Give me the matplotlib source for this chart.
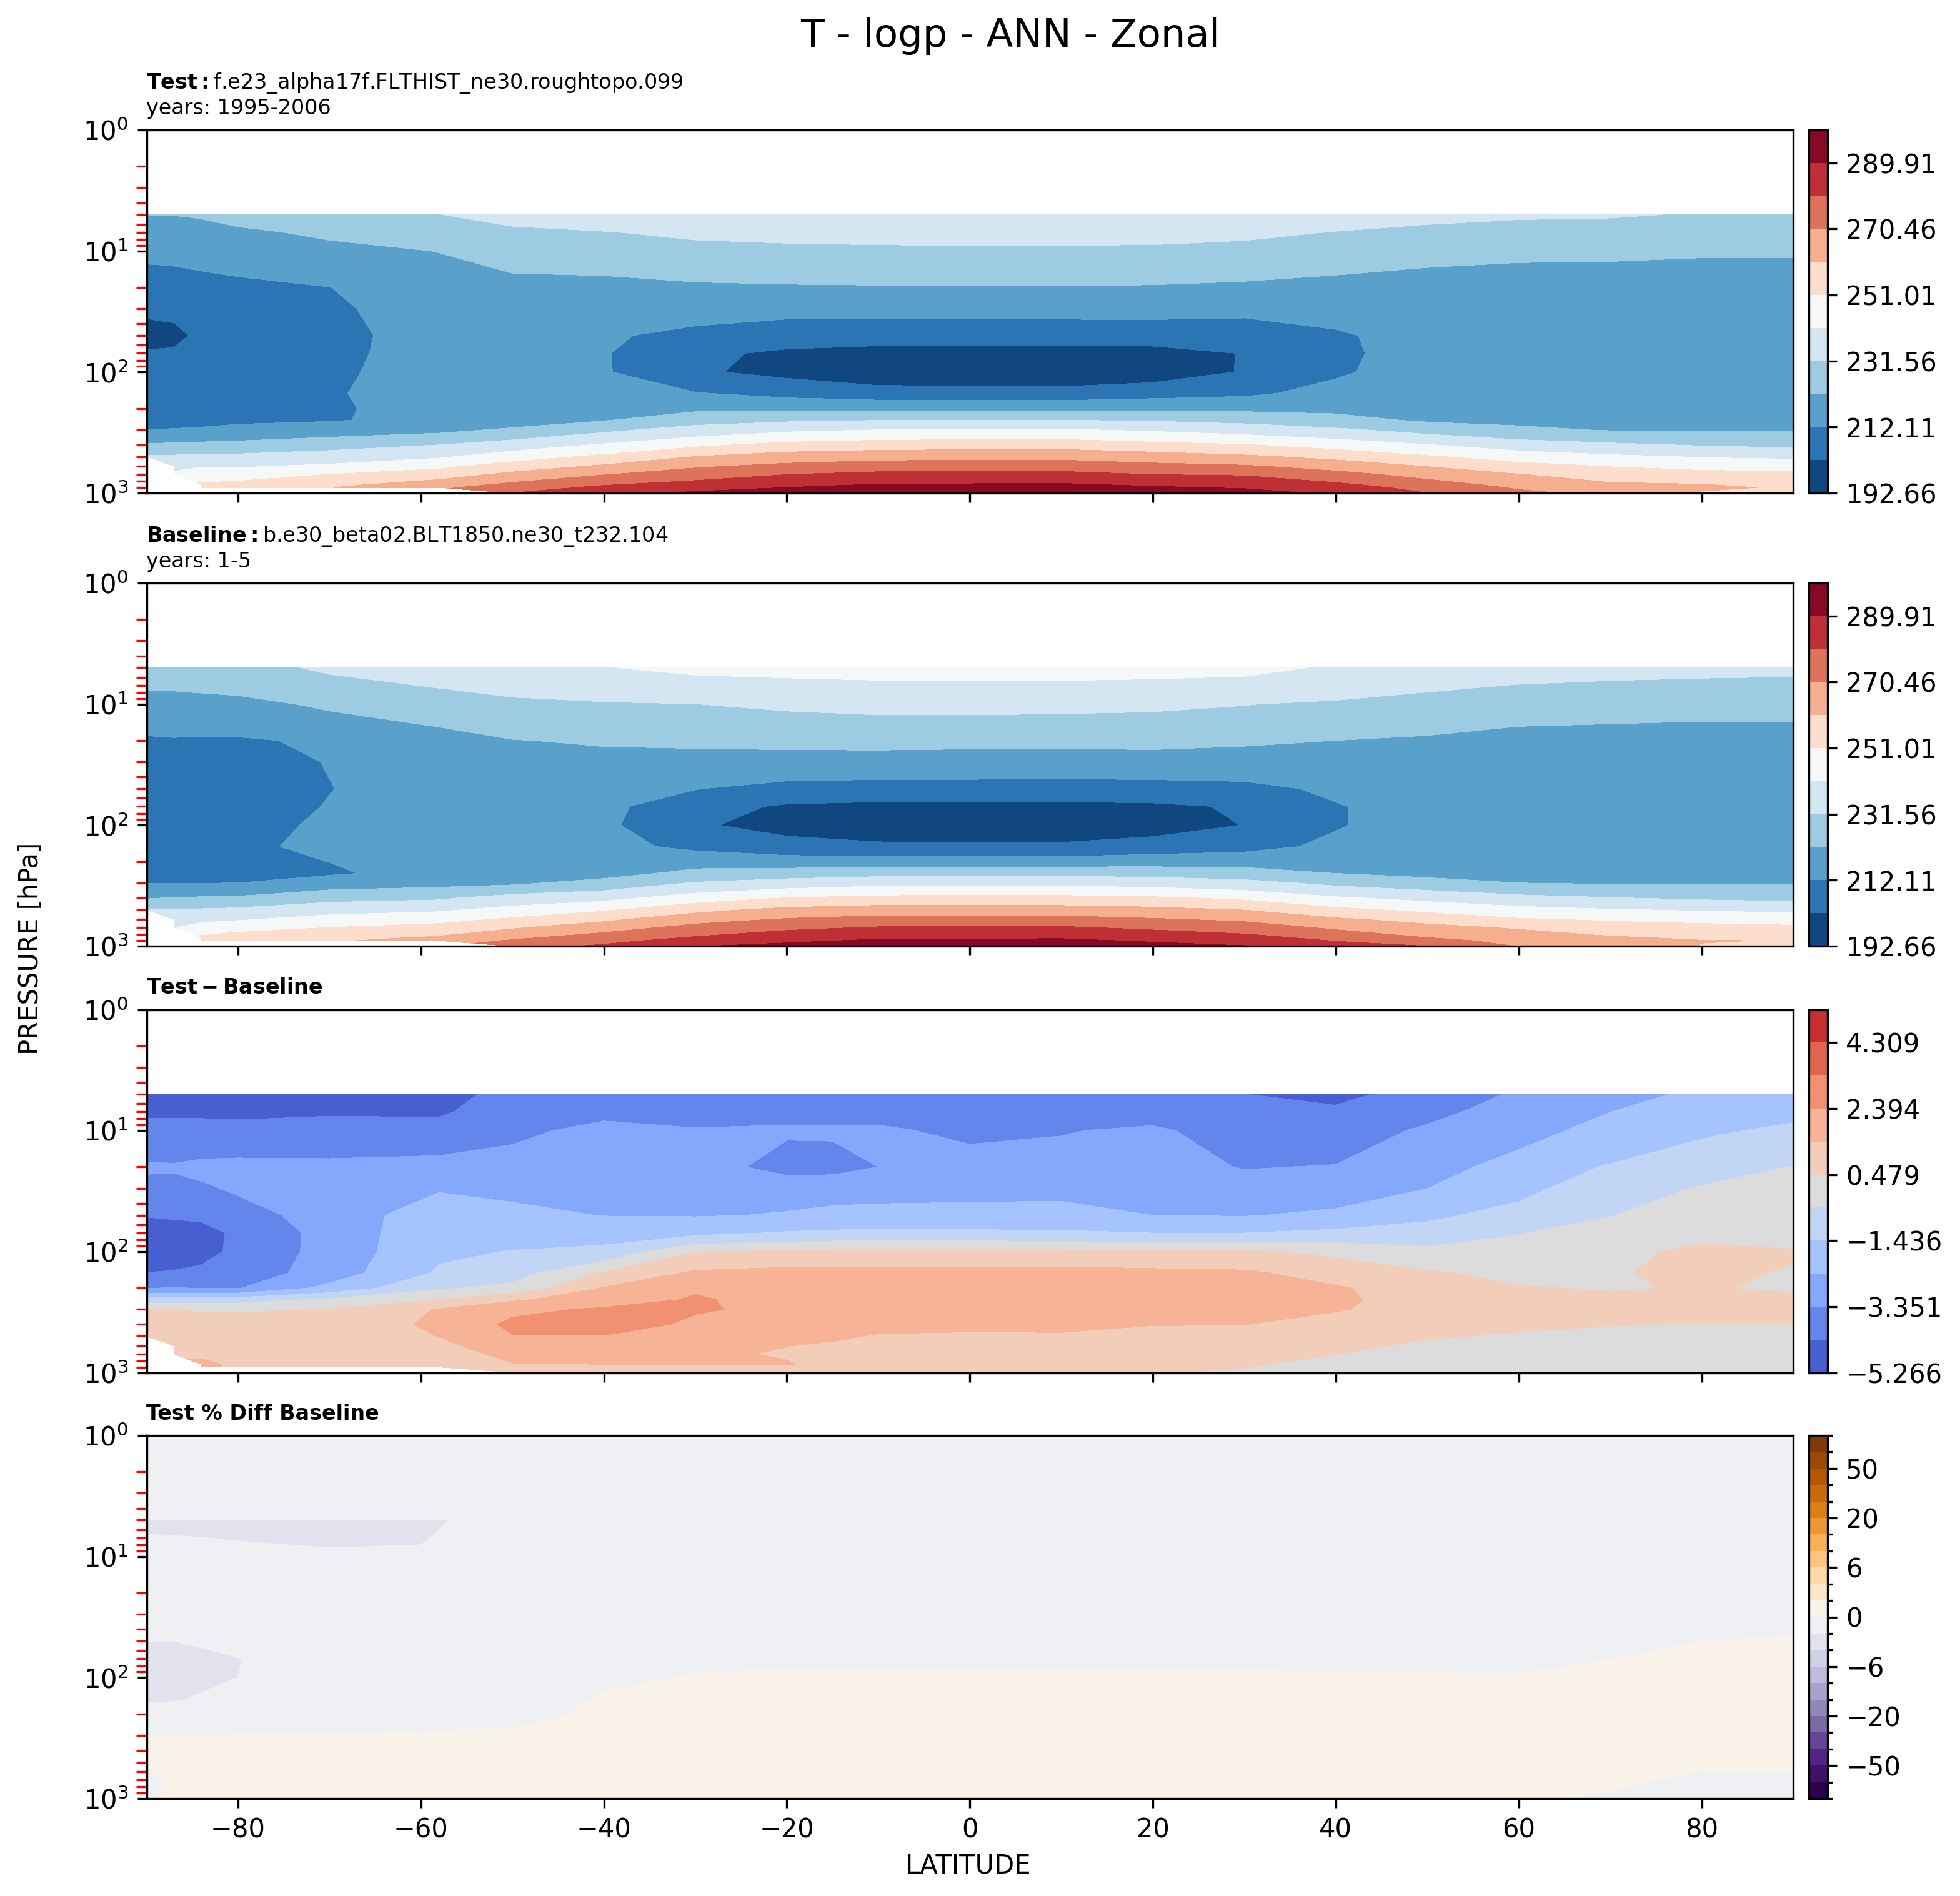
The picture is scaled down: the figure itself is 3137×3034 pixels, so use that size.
import numpy as np
import matplotlib
matplotlib.use("Agg")
import matplotlib.pyplot as plt
from matplotlib.colors import BoundaryNorm
from matplotlib.ticker import LogLocator, FixedLocator, FixedFormatter

nan = float("nan")
W, H = 3137, 3034

# pressure rows (hPa) and latitude columns
PLEV = [5, 7, 10, 20, 30, 50, 70, 100, 150, 200, 250, 300, 400, 500, 600, 700, 850, 900, 1000]
LAT = [-90, -87, -84, -80, -70, -58, -50, -40, -30, -20, -10, 0, 10, 20, 30, 40, 50, 60, 70, 80, 90]
LAT_DIFF = [-90, -87, -84, -80, -70, -58, -50, -40, -30, -20, -15, -10, 0, 10, 20, 30, 40, 50, 60, 70, 80, 90]

# temperature [K], one line per latitude, ordered as PLEV
T_TEST = [
    [221.9, 218.1, 214.0, 207.3, 203.7, 199.5, 203.2, 205.4, 207.9, 209.6, 211.0, 212.1, 223.1, 232.6, nan, nan, nan, nan, nan],
    [222.0, 218.3, 214.3, 207.7, 204.0, 200.5, 203.5, 205.8, 208.0, 209.7, 211.0, 212.3, 223.5, 233.0, 238.5, 243.0, nan, nan, nan],
    [222.6, 219.0, 215.0, 208.8, 206.0, 204.0, 204.5, 206.0, 208.0, 209.7, 211.0, 212.6, 224.4, 233.6, 240.8, 246.0, 252.3, 254.0, nan],
    [224.6, 220.4, 216.1, 209.8, 207.6, 205.5, 205.5, 206.5, 208.2, 209.9, 211.2, 213.5, 225.3, 233.7, 240.4, 246.0, 253.9, 256.3, nan],
    [226.5, 223.3, 219.5, 212.0, 211.0, 209.5, 209.5, 210.0, 211.0, 210.8, 211.5, 216.9, 227.8, 236.2, 242.9, 251.0, 258.2, 260.4, nan],
    [231.4, 227.0, 222.0, 217.5, 215.5, 216.0, 216.7, 217.4, 217.6, 216.0, 214.5, 219.4, 231.6, 240.0, 248.7, 256.0, 265.7, 268.7, nan],
    [235.0, 229.5, 225.0, 219.0, 216.5, 215.0, 214.8, 215.0, 215.0, 215.0, 217.0, 223.3, 236.3, 246.3, 255.5, 263.0, 272.6, 275.5, 280.4],
    [236.8, 231.2, 226.8, 218.5, 215.0, 213.3, 212.8, 213.0, 213.3, 215.0, 221.3, 229.5, 242.3, 253.2, 262.2, 269.9, 279.4, 282.3, 287.0],
    [237.8, 233.3, 228.6, 220.2, 215.7, 209.5, 204.0, 203.5, 212.7, 219.9, 227.6, 235.3, 249.0, 260.9, 269.2, 275.4, 283.6, 286.0, 291.7],
    [238.5, 234.0, 229.5, 220.8, 215.0, 206.1, 201.0, 200.0, 209.3, 219.9, 230.1, 239.4, 254.0, 265.6, 272.9, 280.0, 287.7, 290.0, 294.0],
    [238.9, 234.4, 229.9, 221.1, 215.0, 205.7, 199.5, 196.0, 207.0, 219.5, 231.4, 241.3, 256.0, 267.0, 275.6, 282.5, 290.3, 292.5, 296.2],
    [238.9, 234.6, 230.0, 221.2, 215.0, 205.7, 199.5, 195.5, 206.8, 219.6, 231.6, 241.9, 256.7, 267.4, 275.9, 282.7, 290.6, 292.8, 296.5],
    [238.9, 234.6, 230.0, 221.2, 215.2, 205.9, 199.5, 195.5, 206.3, 219.6, 231.6, 242.0, 256.9, 267.6, 276.0, 282.8, 290.9, 293.0, 296.8],
    [238.8, 234.5, 229.8, 221.0, 215.3, 206.0, 199.5, 197.5, 208.5, 219.9, 230.7, 240.0, 254.0, 265.6, 273.2, 280.0, 288.5, 290.9, 294.8],
    [237.8, 233.4, 228.8, 219.9, 214.4, 206.5, 202.7, 203.0, 210.5, 219.6, 228.6, 237.1, 251.6, 262.5, 271.6, 279.2, 287.0, 289.2, 293.0],
    [235.3, 231.3, 225.8, 219.0, 215.0, 211.0, 210.5, 211.0, 215.0, 219.5, 225.0, 233.2, 247.1, 258.0, 266.6, 273.5, 282.0, 284.5, 288.5],
    [233.7, 229.6, 223.5, 219.0, 217.0, 215.5, 215.5, 216.0, 217.0, 218.5, 220.5, 228.0, 241.8, 252.1, 260.4, 267.0, 274.5, 277.0, 280.3],
    [232.6, 228.5, 222.6, 219.5, 218.0, 217.0, 217.0, 217.0, 217.5, 218.5, 219.5, 223.7, 236.4, 246.6, 254.4, 261.0, 267.4, 269.3, 272.5],
    [232.3, 228.0, 222.3, 220.2, 219.0, 218.5, 218.0, 218.0, 218.5, 219.3, 220.0, 221.2, 233.4, 243.1, 250.7, 255.8, 262.2, 264.3, 268.0],
    [231.0, 227.3, 222.05, 220.5, 219.5, 219.0, 219.0, 219.0, 219.5, 220.0, 220.6, 221.0, 230.8, 240.6, 248.2, 254.0, 261.0, 262.0, 260.0],
    [229.3, 226.2, 222.0, 220.8, 220.0, 219.5, 219.5, 219.5, 219.8, 220.2, 220.8, 221.0, 229.4, 239.4, 247.3, 253.3, 258.0, 259.9, 258.8],
]

T_BASE = [
    [227.0, 223.0, 218.3, 210.8, 208.0, 206.0, 205.5, 205.5, 207.0, 208.5, 210.0, 211.7, 221.6, 231.4, nan, nan, nan, nan, nan],
    [227.0, 223.0, 218.6, 211.3, 208.5, 206.5, 206.0, 206.0, 207.0, 208.5, 210.0, 211.9, 222.0, 232.3, 237.5, 240.8, nan, nan, nan],
    [227.4, 223.5, 219.0, 210.9, 208.8, 207.0, 206.5, 206.5, 207.5, 209.0, 210.5, 211.9, 223.0, 232.5, 239.0, 245.0, 253.0, 255.5, nan],
    [228.5, 224.2, 219.5, 211.0, 209.5, 208.0, 207.5, 207.8, 208.8, 210.0, 211.0, 212.1, 223.4, 233.4, 240.3, 247.4, 255.5, 257.7, nan],
    [233.0, 228.7, 223.2, 213.5, 212.4, 211.9, 212.6, 214.2, 216.0, 212.2, 211.0, 216.9, 228.5, 237.5, 245.0, 251.0, 257.5, 259.5, nan],
    [236.0, 232.3, 226.5, 218.0, 217.0, 216.0, 216.0, 216.5, 216.0, 215.5, 215.4, 219.0, 230.2, 239.8, 247.8, 254.3, 262.0, 265.0, nan],
    [238.0, 234.5, 229.5, 221.5, 217.5, 215.5, 215.0, 215.0, 215.0, 215.0, 216.0, 220.0, 235.8, 244.2, 252.5, 259.6, 268.6, 271.5, 276.5],
    [241.0, 236.0, 230.8, 222.9, 218.5, 214.5, 214.5, 214.0, 214.5, 215.5, 218.0, 225.4, 238.4, 249.8, 258.7, 266.2, 275.0, 277.4, 281.8],
    [243.4, 237.8, 231.5, 223.4, 218.6, 212.4, 206.0, 203.7, 210.2, 217.7, 224.8, 232.2, 246.3, 257.9, 266.7, 273.4, 281.1, 284.0, 289.5],
    [244.3, 238.7, 232.8, 224.0, 218.3, 208.9, 201.2, 198.7, 206.6, 216.5, 226.5, 235.9, 251.4, 263.4, 271.3, 278.0, 286.0, 288.3, 292.5],
    [245.0, 239.5, 233.7, 224.3, 218.1, 208.1, 200.0, 196.5, 204.4, 216.6, 228.3, 238.4, 253.7, 265.4, 273.8, 280.8, 288.8, 291.1, 295.3],
    [245.3, 239.7, 233.8, 224.0, 217.8, 208.2, 200.2, 196.5, 204.0, 216.6, 228.8, 238.7, 254.2, 265.5, 273.8, 280.9, 288.9, 291.2, 295.4],
    [245.1, 239.6, 233.5, 223.9, 217.7, 207.9, 200.0, 196.5, 204.1, 216.7, 228.8, 238.5, 254.0, 265.0, 273.9, 281.2, 289.2, 291.5, 295.6],
    [244.5, 239.1, 233.0, 223.9, 218.4, 208.0, 200.8, 198.0, 207.0, 217.5, 228.0, 237.2, 252.6, 263.5, 271.4, 278.3, 286.6, 288.9, 292.9],
    [243.8, 238.2, 231.8, 223.1, 217.6, 209.5, 203.3, 202.6, 209.2, 217.9, 226.3, 234.5, 249.3, 260.5, 268.7, 275.2, 283.4, 285.8, 290.4],
    [240.2, 236.0, 230.2, 221.8, 218.3, 213.8, 211.5, 211.5, 214.0, 218.5, 221.8, 229.2, 242.6, 253.4, 262.3, 268.7, 277.2, 279.7, 284.0],
    [236.8, 232.9, 228.7, 220.3, 218.5, 216.5, 216.0, 216.0, 216.5, 217.5, 219.0, 225.8, 238.5, 248.6, 257.2, 263.6, 270.5, 273.9, 280.2],
    [235.0, 231.3, 225.0, 219.0, 219.5, 218.0, 217.5, 217.5, 218.0, 218.8, 219.8, 221.8, 234.6, 244.4, 252.0, 259.6, 265.8, 267.0, 270.0],
    [234.2, 230.4, 223.8, 219.5, 220.5, 219.5, 219.0, 219.0, 219.5, 220.0, 220.5, 221.0, 232.0, 241.9, 249.8, 255.3, 261.8, 263.5, 266.7],
    [233.5, 230.0, 223.3, 219.5, 220.5, 220.0, 219.5, 219.5, 220.0, 220.3, 220.7, 221.0, 230.2, 240.2, 248.4, 253.7, 259.4, 261.0, 260.4],
    [233.2, 229.7, 223.3, 219.5, 220.8, 220.5, 220.0, 220.0, 220.3, 220.6, 221.0, 221.3, 228.8, 239.0, 247.0, 252.7, 258.0, 260.5, 259.0],
]

# test minus baseline [K]
T_DIFF = [
    [-4.7, -4.45, -4.0, -3.2, -3.7, -4.25, -4.8, -5.0, -4.3, -3.4, -0.9, 0.5, 0.8, 1.0, nan, nan, nan, nan, nan],
    [-4.7, -4.45, -4.0, -3.25, -3.65, -4.2, -4.7, -4.9, -4.2, -3.3, -1.0, 0.5, 0.8, 1.0, 1.3, 1.3, nan, nan, nan],
    [-4.75, -4.45, -4.0, -3.1, -3.5, -4.15, -4.6, -4.6, -4.1, -3.4, -0.9, 0.4, 0.8, 1.0, 1.2, 1.3, 1.6, 1.6, nan],
    [-4.8, -4.5, -4.0, -3.05, -3.2, -3.85, -4.15, -4.1, -3.9, -3.4, -0.9, 0.4, 0.8, 1.0, 1.1, 1.2, 1.3, 1.3, nan],
    [-4.5, -4.4, -3.95, -3.1, -2.9, -2.8, -3.0, -3.0, -2.9, -2.1, -0.3, 0.5, 0.9, 1.0, 1.1, 1.1, 1.2, 1.2, nan],
    [-4.7, -4.45, -3.9, -3.0, -2.45, -2.0, -1.7, -1.6, -1.3, -0.6, 0.5, 1.5, 1.6, 1.45, 1.2, 1.0, 0.9, 0.9, nan],
    [-3.95, -3.75, -3.55, -2.9, -2.6, -2.15, -1.9, -1.4, -0.9, -0.2, 1.3, 2.2, 2.6, 2.35, 2.0, 1.7, 1.4, 1.3, 1.1],
    [-3.9, -3.55, -3.1, -2.8, -2.65, -2.42, -1.8, -1.2, 0.6, 1.5, 2.0, 2.5, 2.9, 2.35, 2.0, 1.75, 1.45, 1.3, 1.1],
    [-3.8, -3.6, -3.3, -2.85, -2.6, -2.45, -1.7, 0.45, 1.6, 2.3, 2.48, 2.48, 2.2, 2.0, 1.8, 1.6, 1.45, 1.3, 1.0],
    [-3.7, -3.55, -3.25, -3.75, -2.6, -2.35, -1.35, 0.6, 1.8, 2.0, 2.1, 2.2, 2.1, 1.9, 1.45, 1.35, 1.5, 1.3, 1.0],
    [-3.7, -3.55, -3.25, -3.7, -2.6, -2.25, -1.25, 0.7, 1.75, 1.95, 2.05, 2.1, 1.9, 1.6, 1.3, 1.2, 1.2, 1.1, 0.95],
    [-3.7, -3.55, -3.25, -3.35, -2.65, -2.15, -1.2, 0.8, 1.75, 1.9, 2.0, 2.05, 1.75, 1.35, 1.2, 1.1, 1.0, 1.0, 0.9],
    [-3.75, -3.6, -3.5, -3.0, -2.6, -2.15, -1.25, 0.75, 1.75, 1.9, 2.0, 2.0, 1.65, 1.3, 1.15, 1.0, 1.0, 1.0, 0.85],
    [-3.75, -3.6, -3.4, -2.95, -2.6, -2.1, -1.3, 0.7, 1.8, 1.95, 2.0, 2.0, 1.7, 1.3, 1.1, 1.0, 0.95, 0.9, 0.8],
    [-3.9, -3.7, -3.2, -3.0, -2.7, -2.4, -1.45, 0.6, 1.7, 1.9, 2.0, 2.0, 1.46, 1.2, 1.05, 0.95, 0.85, 0.75, 0.52],
    [-4.3, -4.0, -3.8, -3.4, -2.9, -2.45, -1.45, 0.6, 1.6, 1.8, 1.9, 1.9, 1.45, 1.15, 1.0, 0.9, 0.55, 0.5, 0.4],
    [-4.6, -4.1, -3.85, -3.3, -2.85, -2.2, -1.2, 0.3, 1.0, 1.55, 1.6, 1.5, 1.1, 0.85, 0.65, 0.5, 0.3, 0.25, 0.1],
    [-3.85, -3.6, -3.2, -2.8, -2.4, -1.6, -1.1, -0.2, 0.6, 0.9, 1.05, 1.1, 0.8, 0.55, 0.35, 0.2, 0.1, 0.1, 0.2],
    [-3.25, -2.95, -2.7, -2.0, -1.65, -1.15, -0.5, -0.3, 0.2, 0.55, 0.75, 0.75, 0.6, 0.4, 0.25, 0.2, 0.2, 0.3, 0.5],
    [-2.85, -2.4, -2.1, -1.35, -1.0, -0.5, -0.25, 0.1, 0.4, 0.4, 0.7, 0.75, 0.5, 0.35, 0.25, 0.2, 0.15, 0.15, 0.2],
    [-2.15, -1.95, -1.55, -0.9, -0.4, -0.15, 0.1, 0.8, 0.7, 0.55, 0.8, 0.8, 0.45, 0.3, 0.2, 0.15, 0.1, 0.1, 0.1],
    [-1.95, -1.6, -1.3, -0.45, -0.1, 0.0, 0.1, 0.55, 0.4, 0.35, 0.7, 0.8, 0.45, 0.3, 0.2, 0.15, 0.1, 0.1, 0.1],
]

# percent difference, on its own coarser grid reaching up to 1 hPa
PLEV_PCT = [1, 4.9, 5, 7, 10, 20, 50, 70, 100, 150, 200, 300, 500, 700, 850, 1000]
LAT_PCT = [-90, -87, -80, -70, -60, -57, -50, -45, -40, -30, -20, 0, 20, 40, 60, 70, 80, 90]
T_PCT = [
    [-1.0, -1.5, -2.3, -1.9, -1.7, -1.5, -2.0, -2.3, -2.4, -2.1, -1.7, 0.0, 0.3, -0.4, -0.5, -0.4],
    [-1.0, -1.5, -2.3, -1.95, -1.7, -1.5, -2.0, -2.2, -2.2, -2.05, -1.7, 0.0, 0.4, 0.3, 0.4, 0.4],
    [-1.0, -1.5, -2.3, -2.05, -1.7, -1.4, -1.7, -2.03, -2.0, -1.8, -1.5, 0.05, 0.4, 0.4, 0.4, 0.4],
    [-1.0, -1.5, -2.3, -2.2, -1.8, -1.3, -1.2, -1.3, -1.4, -1.3, -1.2, 0.05, 0.4, 0.4, 0.4, 0.4],
    [-1.0, -1.5, -2.1, -2.1, -1.8, -1.3, -1.0, -1.0, -1.0, -1.0, -0.8, 0.2, 0.5, 0.5, 0.4, 0.4],
    [-1.0, -1.5, -2.0, -1.8, -1.6, -1.2, -1.0, -1.0, -1.0, -0.9, -0.7, 0.25, 0.5, 0.5, 0.4, 0.4],
    [-1.0, -1.4, -1.7, -1.6, -1.5, -1.2, -1.0, -1.0, -0.9, -0.7, -0.4, 0.3, 0.6, 0.5, 0.4, 0.4],
    [-1.0, -1.4, -1.6, -1.5, -1.4, -1.2, -1.0, -0.9, -0.8, -0.6, -0.1, 0.4, 0.6, 0.5, 0.4, 0.4],
    [-1.0, -1.3, -1.5, -1.5, -1.4, -1.1, -0.9, -0.7, -0.3, 0.2, 0.4, 0.6, 0.7, 0.5, 0.4, 0.4],
    [-1.0, -1.3, -1.5, -1.5, -1.3, -1.1, -0.8, -0.3, 0.1, 0.4, 0.5, 0.6, 0.7, 0.5, 0.4, 0.3],
    [-1.0, -1.3, -1.4, -1.4, -1.3, -1.1, -0.7, -0.2, 0.2, 0.5, 0.6, 0.7, 0.7, 0.5, 0.4, 0.3],
    [-1.0, -1.3, -1.4, -1.4, -1.3, -1.1, -0.7, -0.2, 0.2, 0.5, 0.6, 0.7, 0.7, 0.5, 0.4, 0.3],
    [-1.0, -1.3, -1.4, -1.4, -1.3, -1.1, -0.7, -0.2, 0.2, 0.5, 0.6, 0.7, 0.7, 0.5, 0.4, 0.3],
    [-1.0, -1.3, -1.4, -1.4, -1.3, -1.1, -0.7, -0.3, 0.15, 0.5, 0.6, 0.6, 0.6, 0.4, 0.3, 0.2],
    [-1.0, -1.2, -1.3, -1.3, -1.2, -1.0, -0.6, -0.3, 0.1, 0.4, 0.5, 0.5, 0.5, 0.3, 0.2, 0.1],
    [-1.0, -1.2, -1.3, -1.2, -1.1, -0.9, -0.3, -0.01, 0.2, 0.4, 0.5, 0.5, 0.4, 0.2, 0.02, -0.1],
    [-1.0, -1.2, -1.2, -1.1, -1.0, -0.7, 0.0, 0.2, 0.3, 0.4, 0.5, 0.5, 0.2, -0.2, -0.3, -0.3],
    [-1.0, -1.1, -1.2, -1.0, -0.9, -0.5, 0.1, 0.25, 0.3, 0.4, 0.5, 0.5, 0.2, -0.2, -0.3, -0.3],
]

LEVELS_T = [192.66, 202.385, 212.11, 221.835, 231.56, 241.285, 251.01, 260.735, 270.46, 280.185, 289.91, 299.635]
TICKS_T = [192.66, 212.11, 231.56, 251.01, 270.46, 289.91]
TICKLABELS_T = ["192.66", "212.11", "231.56", "251.01", "270.46", "289.91"]
LEVELS_D = [-5.266, -4.3085, -3.351, -2.3935, -1.436, -0.4785, 0.479, 1.4365, 2.394, 3.3515, 4.309, 5.266]
TICKS_D = [-5.266, -3.351, -1.436, 0.479, 2.394, 4.309]
TICKLABELS_D = ["\u22125.266", "\u22123.351", "\u22121.436", "0.479", "2.394", "4.309"]
LEVELS_P = [-70, -60, -50, -40, -30, -20, -15, -10, -6, -4, -2, 0, 2, 4, 6, 10, 15, 20, 30, 40, 50, 60, 70]
TICKS_P = [-50, -20, -6, 0, 6, 20, 50]
TICKLABELS_P = ["\u221250", "\u221220", "\u22126", "0", "6", "20", "50"]
XTICKS = [-80, -60, -40, -20, 0, 20, 40, 60, 80]

TITLES = [
    "$\\bf{Test}:$f.e23_alpha17f.FLTHIST_ne30.roughtopo.099\nyears: 1995-2006",
    "$\\bf{Baseline}:$b.e30_beta02.BLT1850.ne30_t232.104\nyears: 1-5",
    "$\\bf{Test - Baseline}$",
    "Test % Diff Baseline",
]

# pixel layout: top, bottom of each panel
ROWS_PX = [(208, 789), (933, 1514), (1615.5, 2196.5), (2297, 2878)]
L_PX, R_PX = 234.5, 2870
CL_PX, CR_PX = 2895, 2925


def rect(x0, x1, y0, y1):
    return [x0 / W, 1 - y1 / H, (x1 - x0) / W, (y1 - y0) / H]


plt.rcParams["font.size"] = 10
fig = plt.figure(figsize=(W / 300, H / 300), dpi=300)

panels = [
    (LAT, PLEV, T_TEST, LEVELS_T, "RdBu_r", None, TICKS_T, TICKLABELS_T),
    (LAT, PLEV, T_BASE, LEVELS_T, "RdBu_r", None, TICKS_T, TICKLABELS_T),
    (LAT_DIFF, PLEV, T_DIFF, LEVELS_D, "coolwarm", None, TICKS_D, TICKLABELS_D),
    (LAT_PCT, PLEV_PCT, T_PCT, LEVELS_P, "PuOr_r", BoundaryNorm(LEVELS_P, 256), TICKS_P, TICKLABELS_P),
]

for i, (lat, plev, field, levels, cmap, norm, ticks, ticklabels) in enumerate(panels):
    top, bot = ROWS_PX[i]
    ax = fig.add_axes(rect(L_PX, R_PX, top, bot))
    z = np.array(field, dtype=float).T
    cf = ax.contourf(lat, plev, z, levels=levels, cmap=cmap, norm=norm)
    ax.set_yscale("log")
    ax.set_ylim(1000, 1)
    ax.set_xlim(-90, 90)
    ax.set_xticks(XTICKS)
    ax.yaxis.set_major_locator(LogLocator(base=10, numticks=6))
    ax.yaxis.set_minor_locator(LogLocator(base=10, subs=range(2, 10), numticks=12))
    ax.tick_params(axis="y", which="minor", length=4, width=0.8, color="red", labelleft=False)
    if i < 3:
        ax.tick_params(axis="x", labelbottom=False)
    ax.set_title(TITLES[i], loc="left", fontsize=8, pad=6,
                 fontweight="bold" if i == 3 else "normal")

    cax = fig.add_axes(rect(CL_PX, CR_PX, top, bot))
    cb = fig.colorbar(cf, cax=cax, spacing="uniform")
    cax.yaxis.set_major_locator(FixedLocator(ticks))
    cax.yaxis.set_major_formatter(FixedFormatter(ticklabels))
    if i == 3:
        cax.yaxis.set_minor_locator(FixedLocator(levels))
        cax.tick_params(which="minor", length=2, width=0.8)
    else:
        cax.minorticks_off()

fig.text(1617 / W, 1 - 58 / H, "T - logp - ANN - Zonal", fontsize=15, ha="center", va="center")
fig.text(49 / W, 1 - 1518 / H, "PRESSURE [hPa]", fontsize=10, rotation=90, ha="center", va="center")
fig.text(1550 / W, 1 - 2986 / H, "LATITUDE", fontsize=10, ha="center", va="center")

fig.savefig("out.png", dpi=300)
